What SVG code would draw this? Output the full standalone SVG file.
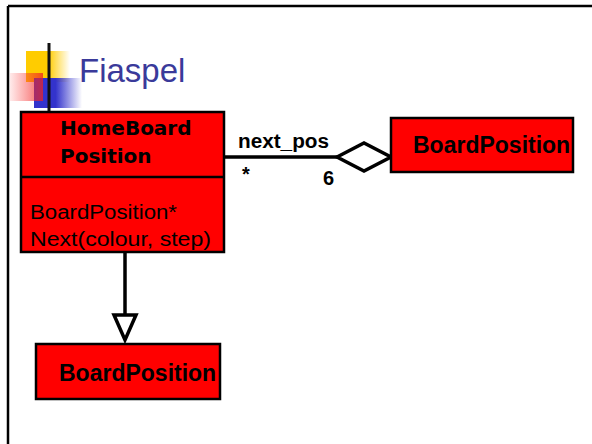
<svg xmlns="http://www.w3.org/2000/svg" width="592" height="444" viewBox="0 0 592 444">
<style>
.box{fill:#ff0000;stroke:#000;stroke-width:2.5}
.b{font-family:"Liberation Sans",Arial,sans-serif;font-weight:bold;fill:#000}
.r{font-family:"Liberation Sans",Arial,sans-serif;fill:#000}
.conn{stroke:#000;stroke-width:3.5;fill:none}
.head{stroke:#000;stroke-width:3.5;fill:#fff;stroke-linejoin:miter}
</style>
<defs>
<linearGradient id="gy" x1="0" y1="0" x2="1" y2="0">
<stop offset="0" stop-color="#ffcc00"/>
<stop offset="0.5" stop-color="#ffcc00"/>
<stop offset="1" stop-color="#ffcc00" stop-opacity="0"/>
</linearGradient>
<linearGradient id="gb" x1="0" y1="0" x2="1" y2="0">
<stop offset="0" stop-color="#3333cc"/>
<stop offset="0.45" stop-color="#3333cc"/>
<stop offset="1" stop-color="#3333cc" stop-opacity="0"/>
</linearGradient>
<linearGradient id="gr" x1="0" y1="0" x2="1" y2="0">
<stop offset="0" stop-color="#ff3333" stop-opacity="0.1"/>
<stop offset="1" stop-color="#ee2222" stop-opacity="0.75"/>
</linearGradient>
<linearGradient id="gl" x1="0" y1="0" x2="1" y2="0">
<stop offset="0" stop-color="#222"/>
<stop offset="0.4" stop-color="#555"/>
<stop offset="1" stop-color="#fff"/>
</linearGradient>
</defs>
<rect width="592" height="444" fill="#fff"/>
<line x1="8" y1="6" x2="592" y2="6" stroke="#000" stroke-width="2.5"/>
<line x1="8" y1="6" x2="8" y2="444" stroke="#000" stroke-width="2.5"/>
<rect x="26" y="51" width="44" height="31" fill="url(#gy)"/>
<rect x="34" y="78" width="48" height="30" fill="url(#gb)"/>
<rect x="10" y="73" width="33" height="28" fill="url(#gr)"/>
<line x1="27" y1="96" x2="560" y2="96" stroke="url(#gl)" stroke-width="2"/>
<line x1="49" y1="43" x2="49" y2="112" stroke="#111" stroke-width="3"/>
<text x="79" y="82" font-family="'Liberation Sans',Arial,sans-serif" font-size="33" fill="#3a3a9a">Fiaspel</text>
<g id="connectors">
<line class="conn" x1="224" y1="157" x2="338" y2="157"/>
<polygon class="head" points="337,157 364,143 391,157 364,171"/>
<text class="b" x="238" y="148" font-size="20" textLength="91" lengthAdjust="spacingAndGlyphs">next_pos</text>
<text class="b" x="242" y="181" font-size="20">*</text>
<text class="b" x="323" y="185" font-size="20">6</text>
<line class="conn" x1="125" y1="252" x2="125" y2="316"/>
<polygon class="head" points="114,315 136,315 125,340"/>
</g>
<g id="homeboard">
<rect class="box" x="21" y="112" width="203" height="140"/>
<line x1="21" y1="177" x2="224" y2="177" stroke="#000" stroke-width="2.5"/>
<text x="60" y="135" font-family="'DejaVu Sans',Verdana,sans-serif" font-weight="bold" font-size="20">HomeBoard</text>
<text x="60" y="163" font-family="'DejaVu Sans',Verdana,sans-serif" font-weight="bold" font-size="20">Position</text>
<text class="r" x="30" y="219" font-size="20" textLength="147" lengthAdjust="spacingAndGlyphs">BoardPosition*</text>
<text class="r" x="30" y="246" font-size="20" textLength="181" lengthAdjust="spacingAndGlyphs">Next(colour, step)</text>
</g>
<g id="boardposition-right">
<rect class="box" x="391" y="118" width="182" height="54"/>
<text class="b" x="413" y="153" font-size="23">BoardPosition</text>
</g>
<g id="boardposition-bottom">
<rect class="box" x="36" y="344" width="184" height="55"/>
<text class="b" x="59" y="381" font-size="23">BoardPosition</text>
</g>
</svg>
